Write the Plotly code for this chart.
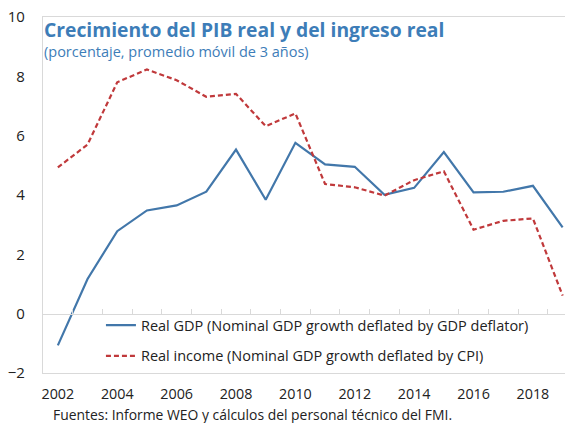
import plotly.graph_objects as go

years = list(range(2002, 2020))
real_gdp = [-1.07, 1.17, 2.78, 3.48, 3.65, 4.11, 5.53, 3.84, 5.76, 5.03, 4.95, 4.01, 4.24, 5.45, 4.09, 4.11, 4.31, 2.91]
real_income = [4.93, 5.70, 7.80, 8.23, 7.87, 7.31, 7.41, 6.32, 6.75, 4.37, 4.26, 3.98, 4.50, 4.80, 2.83, 3.13, 3.21, 0.61]
x_tick_labels = [str(y) for y in range(2002, 2019, 2)]
y_ticks = [-2, 0, 2, 4, 6, 8, 10]

title = "Crecimiento del PIB real y del ingreso real"
subtitle = "(porcentaje, promedio móvil de 3 años)"
footer = "Fuentes: Informe WEO y cálculos del personal técnico del FMI."
name_gdp = "Real GDP (Nominal GDP growth deflated by GDP deflator)"
name_inc = "Real income (Nominal GDP growth deflated by CPI)"

BLUE = "#4277AA"
RED = "#C0393B"
TITLE_BLUE = "#3D7DB8"
FONT = "Open Sans"
GRID = "#D9D9D9"

fig = go.Figure()
fig.add_trace(go.Scatter(x=years, y=real_gdp, mode="lines", name=name_gdp,
                         line=dict(color=BLUE, width=2.2), legend="legend"))
fig.add_trace(go.Scatter(x=years, y=real_income, mode="lines", name=name_inc,
                         line=dict(color=RED, width=2.2, dash="5px,3px"), legend="legend2"))
# invisible trace to carry the zero-line axis with category separators
fig.add_trace(go.Scatter(x=years, y=real_gdp, xaxis="x2", mode="lines",
                         line=dict(width=0), opacity=0, showlegend=False, hoverinfo="skip"))

x_range = [years[0] - 0.5, years[-1] + 0.08]

fig.update_layout(
    width=565, height=423,
    margin=dict(l=43, r=0, t=17, b=50),
    paper_bgcolor="white", plot_bgcolor="white",
    font=dict(family=FONT, size=14, color="#222222"),
    xaxis=dict(range=x_range, tickvals=[int(t) for t in x_tick_labels], ticktext=x_tick_labels,
               showgrid=False, zeroline=False, showline=True, linecolor=GRID, linewidth=1.2,
               mirror=True, ticks="", ticklabelstandoff=8,
               tickfont=dict(size=14.3, color="#222222")),
    xaxis2=dict(range=x_range, overlaying="x", anchor="free", position=(0 - (-2)) / (10 - (-2)),
                side="top", showline=True, linecolor=GRID, linewidth=1.2,
                tickvals=[y + 0.5 for y in years[:-1]], ticks="outside", ticklen=5,
                tickcolor=GRID, tickwidth=1.2, showticklabels=False, showgrid=False, zeroline=False),
    yaxis=dict(range=[-2, 10], tickvals=y_ticks, showgrid=False, zeroline=False,
               showline=True, linecolor=GRID, linewidth=1.2, ticks="", ticklabelstandoff=14,
               tickfont=dict(size=15, color="#222222")),
    legend=dict(x=0.111, y=0.179, xanchor="left", yanchor="top", bgcolor="rgba(0,0,0,0)",
                font=dict(size=14.5, color="#222222"), itemwidth=30),
    legend2=dict(x=0.111, y=0.093, xanchor="left", yanchor="top", bgcolor="rgba(0,0,0,0)",
                 font=dict(size=14.5, color="#222222"), itemwidth=30),
    showlegend=True,
)

fig.add_annotation(text="<b>" + title + "</b>", xref="paper", yref="paper", x=-0.002, y=1.008,
                   xanchor="left", yanchor="top", showarrow=False,
                   font=dict(family=FONT, size=19.3, color=TITLE_BLUE))
fig.add_annotation(text=subtitle, xref="paper", yref="paper", x=-0.002, y=0.935,
                   xanchor="left", yanchor="top", showarrow=False,
                   font=dict(family=FONT, size=14.5, color=TITLE_BLUE))
fig.add_annotation(text=footer, xref="paper", yref="paper", x=0.018, y=-0.0865,
                   xanchor="left", yanchor="top", showarrow=False, borderpad=0,
                   font=dict(family=FONT, size=13.9, color="#222222"))

fig.write_html("out.html", config={"displayModeBar": False},
               post_script="document.body.style.margin='0px';")
